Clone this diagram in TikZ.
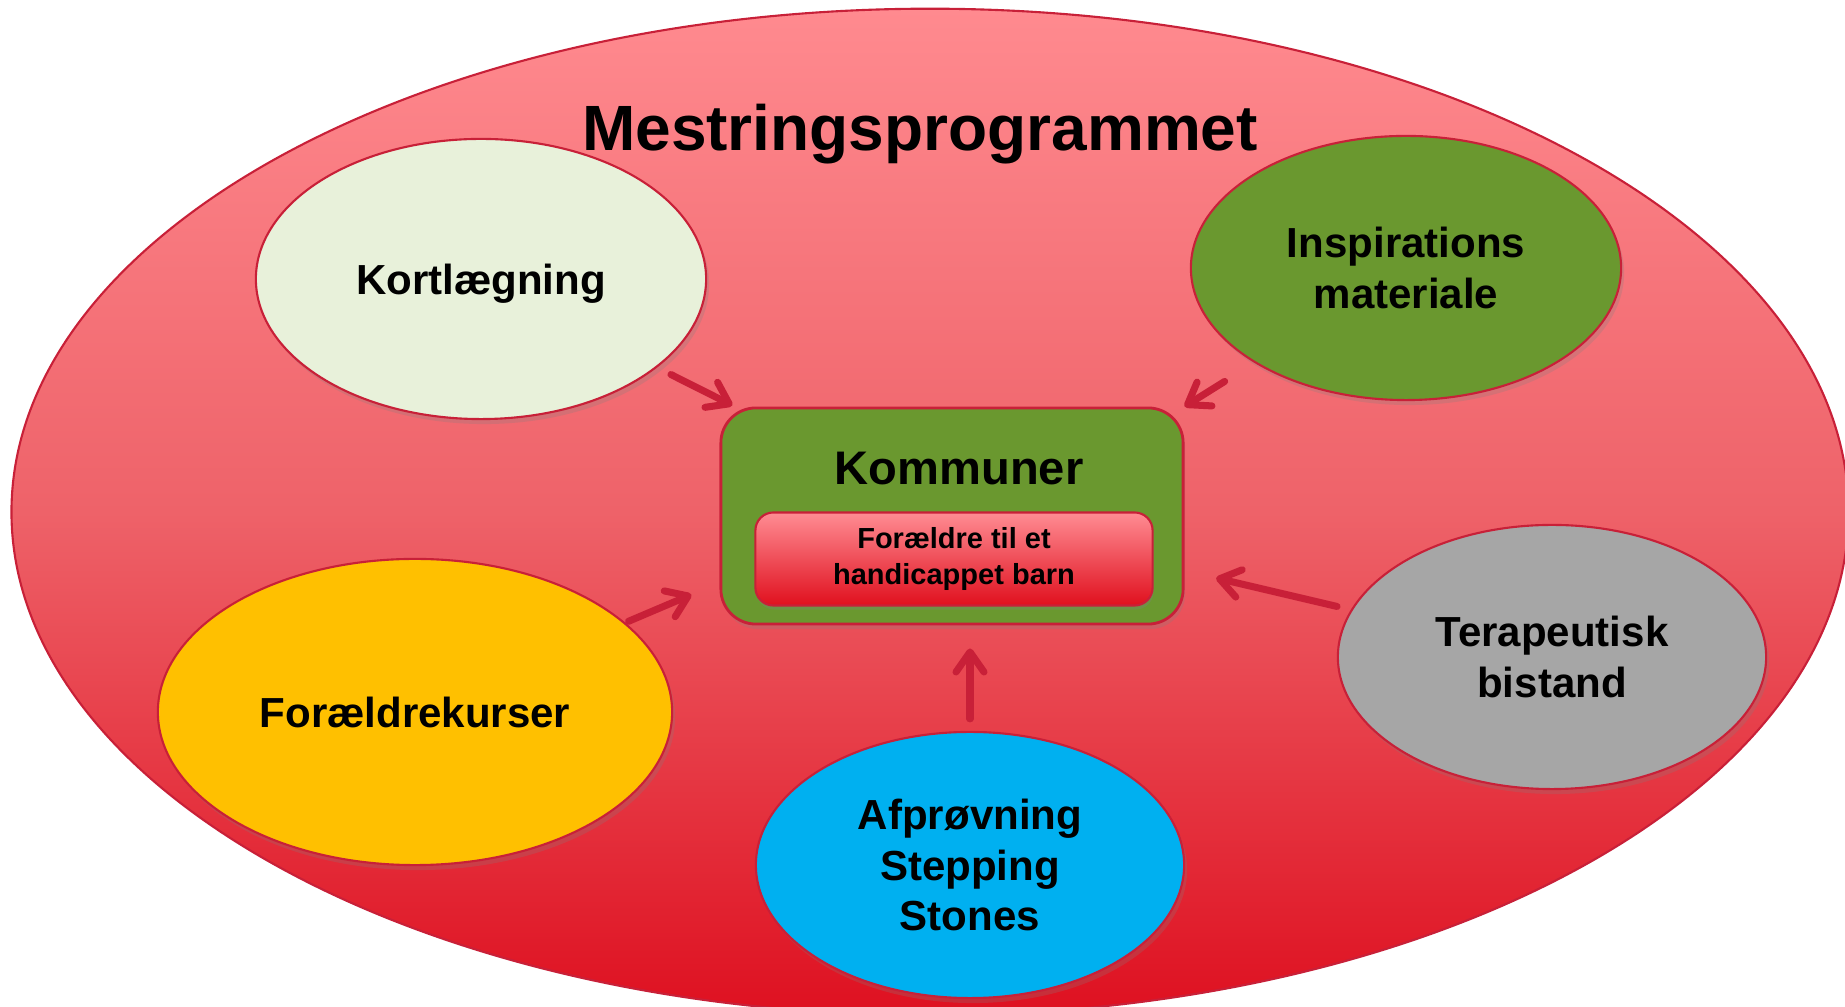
\documentclass[tikz,border=0pt]{standalone}
\usepackage{fontspec}
\setmainfont{Liberation Sans}
\usepackage{xcolor}
\usetikzlibrary{arrows.meta,shapes.geometric,shadows}

\definecolor{outerTop}{HTML}{FF8A8F}
\definecolor{outerMid}{HTML}{EE6269}
\definecolor{outerBot}{HTML}{DE1020}
\definecolor{rimRed}{HTML}{C82038}
\definecolor{paleGreen}{HTML}{E8F1DA}
\definecolor{oliveGreen}{HTML}{6A982F}
\definecolor{gold}{HTML}{FFC000}
\definecolor{skyBlue}{HTML}{00B0F0}
\definecolor{midGray}{HTML}{A6A6A6}
\definecolor{barnTop}{HTML}{FF8C93}
\definecolor{barnBot}{HTML}{E0101E}

\tikzset{
  bubble/.style={ellipse, draw=rimRed, line width=0.6pt, align=center, inner sep=0pt,
    font=\fontsize{11.95}{14.4}\selectfont\bfseries,
    drop shadow={opacity=0.25, shadow xshift=0.03cm, shadow yshift=-0.05cm}},
  pointer/.style={draw=rimRed, line width=2pt, line cap=round,
    -{Straight Barb[length=0.2cm, width=0.28cm, round]}},
}

\begin{document}
\begin{tikzpicture}[x=0.01cm, y=-0.01cm]
  \useasboundingbox (0,0) rectangle (1845,1007);
  \clip (0,0) rectangle (1845,1007);
  \node[ellipse, draw=rimRed, line width=0.6pt, inner sep=0pt, minimum width=18.36cm, minimum height=10.06cm,
    top color=outerTop, bottom color=outerBot, middle color=outerMid] (prog) at (930,512) {};
  \node[font=\fontsize{18.2}{22}\selectfont\bfseries, anchor=base] (title) at (920,151) {Mestringsprogrammet};

  \node[bubble, fill=paleGreen, text depth=0pt, minimum width=4.5cm, minimum height=2.8cm] (kort) at (481,279) {Kortlægning};
  \node[bubble, fill=oliveGreen, minimum width=4.3cm, minimum height=2.64cm] (insp) at (1406,268) {Inspirations\\materiale};
  \node[bubble, fill=gold, minimum width=5.14cm, minimum height=3.06cm] (foraeld) at (415,712) {Forældrekurser};
  \node[bubble, fill=skyBlue, minimum width=4.28cm, minimum height=2.66cm] (afpr) at (970,865) {Afprøvning\\Stepping\\Stones};
  \node[bubble, fill=midGray, minimum width=4.28cm, minimum height=2.64cm] (terap) at (1552,657) {Terapeutisk\\bistand};

  \node[draw=rimRed, line width=0.8pt, fill=oliveGreen, rounded corners=0.35cm, minimum width=4.62cm, minimum height=2.16cm,
    drop shadow={opacity=0.25, shadow xshift=0.02cm, shadow yshift=-0.05cm}] (komm) at (952,516) {};
  \node[font=\fontsize{13.4}{16}\selectfont\bfseries] (kommtxt) at (959,469) {Kommuner};
  \node[draw=rimRed, line width=0.6pt, rounded corners=0.18cm, top color=barnTop, bottom color=barnBot,
    minimum width=3.97cm, minimum height=0.93cm, align=center, font=\fontsize{8.25}{10.2}\selectfont\bfseries,
    drop shadow={opacity=0.3, shadow xshift=0.01cm, shadow yshift=-0.04cm}] (barn) at (954,559) {Forældre til et\\handicappet barn};

  \draw[pointer, shorten <=0.155cm, shorten >=0.025cm] (kort) -- (komm);
  \draw[pointer, shorten <=0.35cm] (insp) -- (komm.north east);
  \draw[pointer, shorten <=0.034cm, shorten >=0.305cm] (foraeld) -- (komm.196);
  \draw[pointer, shorten <=0.12cm, shorten >=0.23cm] (afpr) -- (afpr |- komm.south);
  \draw[pointer, shorten <=0.142cm, shorten >=0.324cm] (terap) -- (komm);
\end{tikzpicture}
\end{document}
